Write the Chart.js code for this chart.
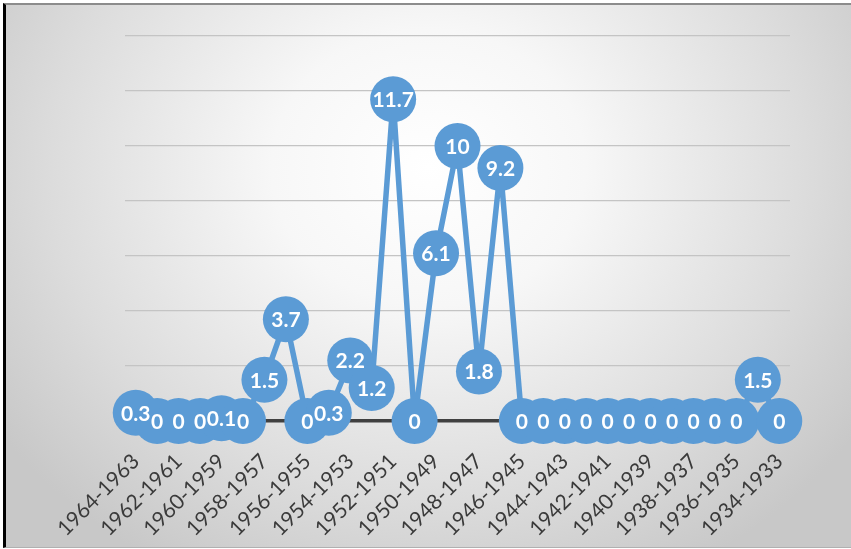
<!DOCTYPE html>
<html>
<head>
<meta charset="utf-8">
<script src="https://cdn.jsdelivr.net/npm/chart.js@4/dist/chart.umd.min.js"></script>
<style>
  html, body { margin: 0; padding: 0; width: 851px; height: 549px; overflow: hidden; background: #ffffff; }
  #frame {
    position: absolute; left: 3px; top: 3px; width: 845px; height: 542px;
    border-left: 3px solid #000; border-top: 2px solid #8c8c8c; border-bottom: 1px solid #b0b0b0;
    background: radial-gradient(ellipse 62% 85% at 50% 30%, #ffffff 0%, #f7f7f7 30%, #dcdcdc 72%, #c8c8c8 100%);
  }
  #c { position: absolute; left: 0; top: 0; }
</style>
</head>
<body>
<div id="frame"></div>
<canvas id="c" width="851" height="549"></canvas>
<script>
const categories = [
  "1964-1963","1963-1962","1962-1961","1961-1960","1960-1959","1959-1958","1958-1957","1957-1956",
  "1956-1955","1955-1954","1954-1953","1953-1952","1952-1951","1951-1950","1950-1949","1949-1948",
  "1948-1947","1947-1946","1946-1945","1945-1944","1944-1943","1943-1942","1942-1941","1941-1940",
  "1940-1939","1939-1938","1938-1937","1937-1936","1936-1935","1935-1934","1934-1933"
];
const values = [
  0.3, 0, 0, 0, 0.1, 0, 1.5, 3.7,
  0, 0.3, 2.2, 1.2, 11.7, 0, 6.1, 10,
  1.8, 9.2, 0, 0, 0, 0, 0, 0,
  0, 0, 0, 0, 0, 1.5, 0
];
const yTicks = [0, 2, 4, 6, 8, 10, 12, 14];

const BLUE = '#5B9BD5';

const dataLabels = {
  id: 'dataLabels',
  afterDatasetsDraw(chart) {
    const ctx = chart.ctx;
    const meta = chart.getDatasetMeta(0);
    ctx.save();
    ctx.fillStyle = '#ffffff';
    ctx.font = 'bold 21px Lato, "Open Sans", sans-serif';
    ctx.textAlign = 'center';
    ctx.textBaseline = 'middle';
    meta.data.forEach((pt, i) => {
      ctx.fillText(String(values[i]), pt.x, pt.y + 1);
    });
    ctx.restore();
  }
};

new Chart(document.getElementById('c'), {
  type: 'line',
  data: {
    labels: categories,
    datasets: [{
      data: values,
      borderColor: BLUE,
      backgroundColor: BLUE,
      borderWidth: 5.5,
      tension: 0,
      pointRadius: 23,
      pointBackgroundColor: BLUE,
      pointBorderColor: BLUE,
      pointBorderWidth: 0,
      clip: false,
      fill: false
    }]
  },
  options: {
    responsive: false,
    animation: false,
    events: [],
    layout: { padding: { left: 125, right: 61, top: 36, bottom: 0 } },
    plugins: { legend: { display: false }, tooltip: { enabled: false } },
    scales: {
      x: {
        offset: true,
        grid: { display: false },
        border: { display: false },
        afterFit(scale) { scale.height = 128; },
        ticks: {
          autoSkip: false,
          maxRotation: 45,
          minRotation: 45,
          padding: 20,
          color: '#3a3a3a',
          font: { family: 'Lato, "Open Sans", sans-serif', size: 21 },
          callback(v, i) { return i % 2 === 0 ? categories[i] : ''; }
        }
      },
      y: {
        min: 0,
        max: 14,
        afterFit(scale) { scale.width = 0; },
        afterBuildTicks(scale) { scale.ticks = yTicks.map(v => ({ value: v })); },
        border: { display: false },
        ticks: { display: false },
        grid: {
          drawTicks: false,
          color: (c) => c.tick && c.tick.value === 0 ? '#404040' : '#c4c4c4',
          lineWidth: (c) => c.tick && c.tick.value === 0 ? 3.5 : 1.2
        }
      }
    }
  },
  plugins: [dataLabels]
});
</script>
</body>
</html>
